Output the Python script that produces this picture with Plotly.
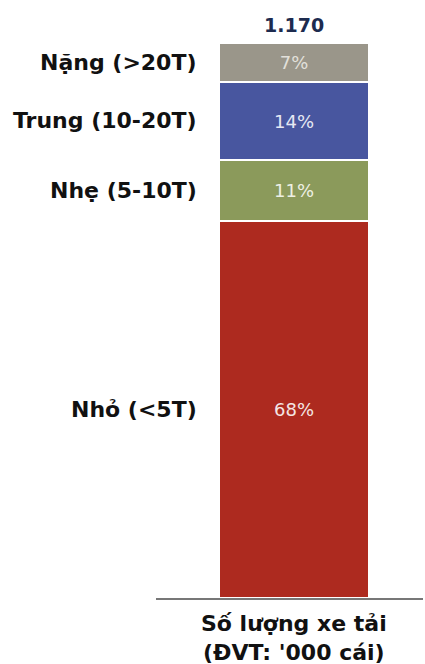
import plotly.graph_objects as go

# Truck fleet share by tonnage class (bottom to top of the stack)
segments = ["Nhỏ (<5T)", "Nhẹ (5-10T)", "Trung (10-20T)", "Nặng (>20T)"]
shares = [68, 11, 14, 7]
colors = ["#ad2a1f", "#8b9a5b", "#48569f", "#9a968a"]
pct_colors = ["#f4e6e4", "#eef0e4", "#e6e8f3", "#e2e0da"]
total_label = "1.170"
axis_title = "Số lượng xe tải<br>(ĐVT: '000 cái)"

FONT = "DejaVu Sans, Arial, sans-serif"

fig = go.Figure()
base = 0
for name, val, col, tcol in zip(segments, shares, colors, pct_colors):
    fig.add_trace(go.Bar(
        x=[0], y=[val], base=[base], width=[1.0],
        marker=dict(color=col, line=dict(color="white", width=2)),
        text=[f"{val}%"], textposition="inside", insidetextanchor="middle",
        textfont=dict(family=FONT, size=18, color=tcol),
        name=name, showlegend=False, hoverinfo="skip",
    ))
    # category label to the left of its segment
    fig.add_annotation(
        x=-0.5, y=base + val / 2, xref="x", yref="y",
        text=f"<b>{name}</b>", showarrow=False,
        xanchor="right", yanchor="middle", xshift=-20,
        font=dict(family=FONT, size=22, color="#111111"),
    )
    base += val

# total above the stack
fig.add_annotation(
    x=0, y=sum(shares), xref="x", yref="y",
    text=f"<b>{total_label}</b>", showarrow=False,
    xanchor="center", yanchor="bottom", yshift=5,
    font=dict(family=FONT, size=19, color="#1d2b4f"),
)

# category axis caption under the bar
fig.add_annotation(
    x=0, y=0, xref="x", yref="y",
    text=f"<b>{axis_title}</b>", showarrow=False,
    xanchor="center", yanchor="top", yshift=-11,
    font=dict(family=FONT, size=22, color="#111111"),
)

fig.update_layout(
    width=425, height=664,
    margin=dict(l=156, r=2, t=43, b=66),
    paper_bgcolor="white", plot_bgcolor="white",
    barmode="overlay", bargap=0,
    xaxis=dict(range=[-0.92, 0.86], showgrid=False, zeroline=False,
               showticklabels=False, showline=True, linecolor="#777777",
               linewidth=2, fixedrange=True),
    yaxis=dict(range=[0, 100], showgrid=False, zeroline=False,
               showticklabels=False, showline=False, fixedrange=True),
    uniformtext=dict(minsize=10, mode="show"),
)

fig.write_html("out.html")
